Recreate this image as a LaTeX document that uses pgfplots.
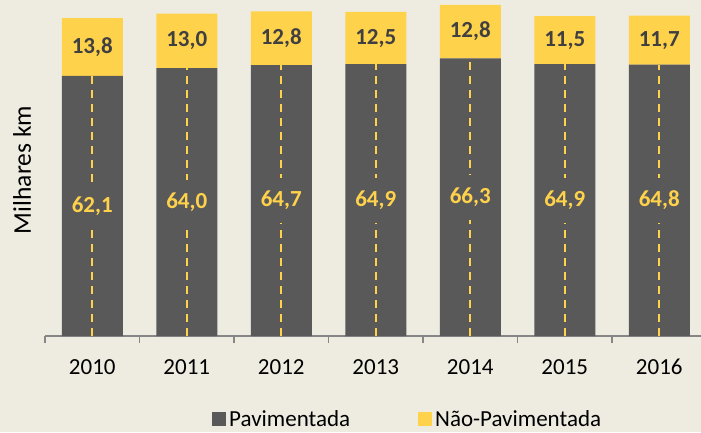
\documentclass[border=0pt]{standalone}
\usepackage{pgfplots}
\pgfplotsset{compat=1.18}
\usepackage{fontspec}
\setmainfont{Carlito}
\definecolor{bg}{RGB}{238,235,224}
\definecolor{dark}{RGB}{89,89,89}
\definecolor{yel}{RGB}{255,210,75}
\definecolor{txt}{RGB}{64,64,64}
\definecolor{axgray}{RGB}{134,134,134}
\newcommand{\bigf}{\fontsize{23}{27}\selectfont}
\begin{document}
\begin{tikzpicture}[x=1pt,y=1pt]
\fill[bg] (0,0) rectangle (701,432);
\clip (0,0) rectangle (701,432);
\pgfplotsset{common/.style={
  at={(45pt,96pt)}, anchor=south west, scale only axis,
  width=661.5pt, height=335pt,
  xmin=-0.5, xmax=6.5, ymin=0, ymax=80,
  /pgf/number format/assume math mode=true,
}}
\begin{axis}[common, ybar stacked, bar width=61pt,
  axis y line=none,
  axis x line*=bottom,
  x axis line style={axgray, line width=1.3pt, -},
  xtick={0,1,2,3,4,5,6},
  xticklabels={2010,2011,2012,2013,2014,2015,2016},
  major tick length=0pt,
  minor xtick={-0.5,0.5,1.5,2.5,3.5,4.5,5.5,6.5},
  minor tick length=7pt, tick align=outside,
  minor tick style={axgray, line width=1.3pt},
  xticklabel style={font=\bigf, text=black, anchor=base, yshift=-38pt},
  legend columns=2,
  legend cell align=left,
  legend style={at={(rel axis cs:0.2525,-0.2209)}, anchor=north west,
    draw=none, fill=none, inner sep=0pt, font=\bigf,
    nodes={inner ysep=0pt, inner xsep=3pt},
    /tikz/every even column/.append style={column sep=65pt}},
]
\addplot[fill=dark, draw=none,
  legend image code/.code={\fill[fill=dark] (0pt,-7pt) rectangle (14pt,7pt);}]
  coordinates {(0,62.1) (1,64.0) (2,64.7) (3,64.9) (4,66.3) (5,64.9) (6,64.8)};
\addlegendentry{Pavimentada}
\addplot[fill=yel, draw=none,
  legend image code/.code={\fill[fill=yel] (0pt,-7pt) rectangle (14pt,7pt);}]
  coordinates {(0,13.8) (1,13.0) (2,12.8) (3,12.5) (4,12.8) (5,11.5) (6,11.7)};
\addlegendentry{Não-Pavimentada}
\end{axis}
\begin{axis}[common, hide axis]
\addplot[ycomb, yel, line width=2pt, dash pattern=on 8pt off 6pt]
  coordinates {(0,62.1) (1,64.0) (2,64.7) (3,64.9) (4,66.3) (5,64.9) (6,64.8)};
\addplot[draw=none, mark=none, nodes near coords, point meta=explicit symbolic,
  nodes near coords align={center},
  every node near coord/.append style={font=\bigf\bfseries, text=yel, fill=dark,
    inner xsep=3pt, inner ysep=13pt, anchor=center}]
  table[x=x, y=y, meta=l] {
x y l
0 31.05 62,1
1 32.00 64,0
2 32.35 64,7
3 32.45 64,9
4 33.15 66,3
5 32.45 64,9
6 32.40 64,8
};
\addplot[draw=none, mark=none, nodes near coords, point meta=explicit symbolic,
  nodes near coords align={center},
  every node near coord/.append style={font=\bigf\bfseries, text=txt, anchor=center}]
  table[x=x, y=y, meta=l] {
x y l
0 69.00 13,8
1 70.50 13,0
2 71.10 12,8
3 71.15 12,5
4 72.70 12,8
5 70.65 11,5
6 70.65 11,7
};
\end{axis}
\node[rotate=90, font=\fontsize{25.5}{30}\selectfont, text=black] at (22,262) {Milhares km};
\end{tikzpicture}
\end{document}
